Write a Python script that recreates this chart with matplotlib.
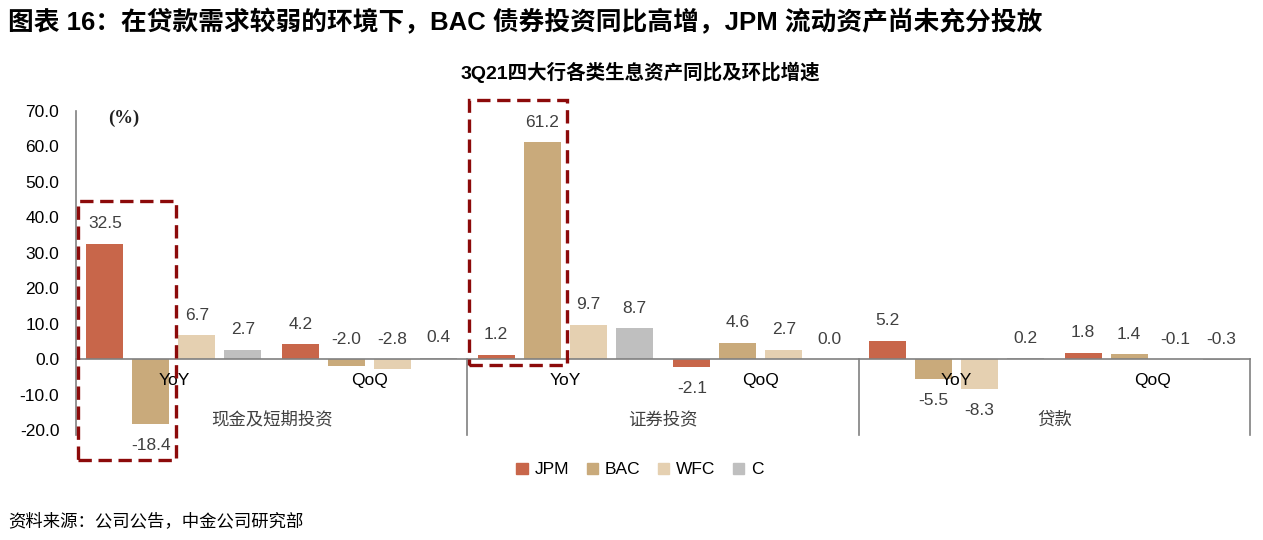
import matplotlib
matplotlib.use("Agg")
import matplotlib.pyplot as plt
from matplotlib.patches import Patch, Rectangle
import numpy as np

plt.rcParams['font.family'] = ['Liberation Sans', 'Noto Sans CJK SC', 'DejaVu Sans']

# ---- data ----
categories = ['现金及短期投资', '证券投资', '贷款']
periods = ['YoY', 'QoQ']
banks = ['JPM', 'BAC', 'WFC', 'C']
jpm = [32.5, 4.2, 1.2, -2.1, 5.2, 1.8]
bac = [-18.4, -2.0, 61.2, 4.6, -5.5, 1.4]
wfc = [6.7, -2.8, 9.7, 2.7, -8.3, -0.1]
citi = [2.7, 0.4, 8.7, 0.0, 0.2, -0.3]
yticks = [-20, -10, 0, 10, 20, 30, 40, 50, 60, 70]

series = [jpm, bac, wfc, citi]
colors = ['#C8664A', '#C9AA7B', '#E5D0B1', '#BFBFBF']
# labels of these small negative values are drawn above the zero line (as in the source)
label_above = {(1, 1), (1, 2), (5, 2), (5, 3)}

W, H = 1263, 540
fig = plt.figure(figsize=(W / 100, H / 100), dpi=100)
ymin, ymax = -21.4, 70
ax = fig.add_axes([76 / W, (H - 435) / H, (1250 - 76) / W, (435 - 111) / H])
ax.set_xlim(-0.5, 5.5)
ax.set_ylim(ymin, ymax)
for s in ax.spines.values():
    s.set_visible(False)

n_groups = len(jpm)
x = np.arange(n_groups)
slot = 0.235
bw = 0.19
for i, (vals, col) in enumerate(zip(series, colors)):
    off = (i - 1.5) * slot
    ax.bar(x + off, vals, width=bw, color=col, zorder=2)
    for g, v in enumerate(vals):
        if v >= 0 or (g, i) in label_above:
            base = max(v, 0)
            dy = 14.5
        else:
            base = v
            dy = -15.5
        ax.annotate(f'{v:.1f}', (x[g] + off, base), xytext=(0, dy), textcoords='offset points',
                    ha='center', va='center', fontsize=12.5, color='#404040')

# axes lines
line_col = '#808080'
ax.plot([-0.5, 5.5], [0, 0], color=line_col, lw=1.2, zorder=3, clip_on=False)
ax.plot([-0.5, -0.5], [ymin, ymax], color=line_col, lw=1.2, zorder=3, clip_on=False)
for b in [1.5, 3.5, 5.5]:
    ax.plot([b, b], [0, ymin], color=line_col, lw=1.2, zorder=3, clip_on=False)

ax.set_xticks([])
ax.set_yticks(yticks)
ax.set_yticklabels([f'{t:.1f}' for t in yticks], fontsize=12.5)
ax.tick_params(axis='y', length=0, pad=12)

# category labels
for g in range(n_groups):
    ax.text(x[g], -5.9, periods[g % 2], ha='center', va='center', fontsize=12.5, color='black')
for k, cat in enumerate(categories):
    ax.text(2 * k + 0.5, -16.9, cat, ha='center', va='center', fontsize=12.5, color='#404040')

ax.text(-0.255, 68.0, '(%)', ha='center', va='center', fontsize=13.5, family='Liberation Serif',
        fontweight='bold', color='#202020')

# highlight boxes
box_col = '#8C0A0A'
for g, y0, y1 in [(0, -28.5, 44.6), (2, -1.7, 73.1)]:
    r = Rectangle((g - 0.492, y0), 0.502, y1 - y0, fill=False, edgecolor=box_col, lw=2.4,
                  linestyle=(0, (4, 2)), clip_on=False, zorder=5)
    ax.add_patch(r)

# legend
handles = [Patch(color=c, label=b) for c, b in zip(colors, banks)]
fig.legend(handles=handles, loc='center', bbox_to_anchor=(640 / W, 1 - 470 / H), ncol=4,
           frameon=False, fontsize=12.5, handlelength=0.65, handleheight=0.65, handletextpad=0.4,
           columnspacing=1.0)

fig.text(8 / W, 1 - 22 / H, '图表 16：在贷款需求较弱的环境下，BAC 债券投资同比高增，JPM 流动资产尚未充分投放',
         ha='left', va='center', fontsize=18.5, fontweight='bold')
fig.text(640 / W, 1 - 72 / H, '3Q21四大行各类生息资产同比及环比增速', ha='center', va='center',
         fontsize=14, fontweight='bold')
fig.text(8 / W, 1 - 521 / H, '资料来源：公司公告，中金公司研究部', ha='left', va='center', fontsize=12.5)

fig.savefig('out.png', dpi=100)
